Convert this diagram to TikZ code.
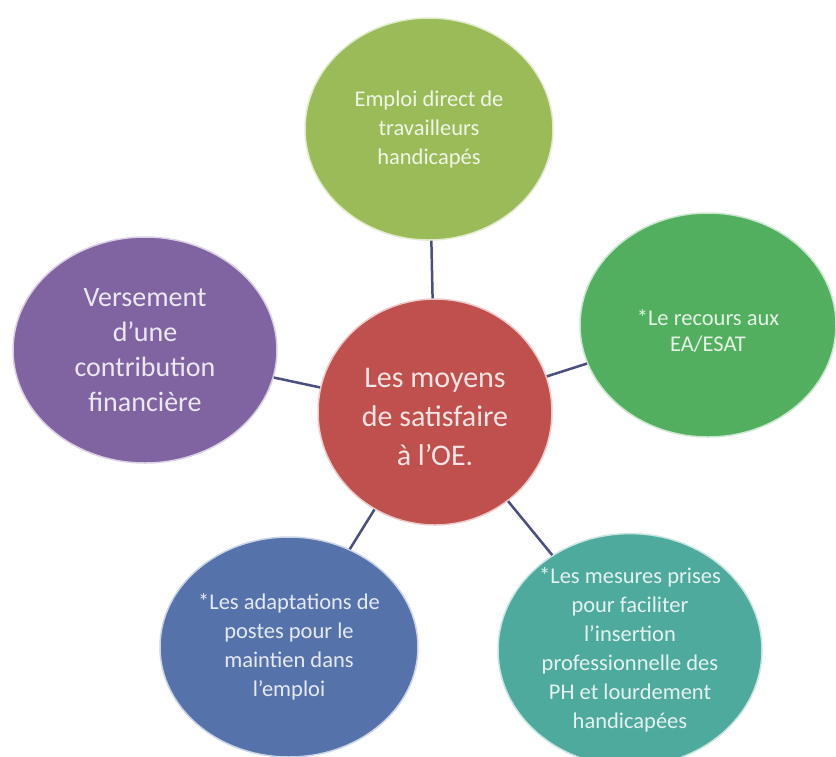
\documentclass[tikz,border=0pt]{standalone}
\usepackage{fontspec}
\setmainfont{Carlito}
\usetikzlibrary{shapes.geometric}
\definecolor{cTop}{HTML}{9BBB59}
\definecolor{cRight}{HTML}{52AF5F}
\definecolor{cRed}{HTML}{C0504D}
\definecolor{cLeft}{HTML}{8064A2}
\definecolor{cBL}{HTML}{5572AA}
\definecolor{cBR}{HTML}{4EAA9C}
\definecolor{cLink}{HTML}{4B4F7E}
\begin{document}
\begin{tikzpicture}[x=1pt,y=-1pt,
  bubble/.style={ellipse, inner sep=0pt, draw=white!70!#1, line width=1.5pt,
    fill=#1, text=white!85!#1, align=center},
  small/.style={font=\fontsize{22.5}{29}\selectfont},
  link/.style={draw=cLink, line width=2.5pt}]
\fill[white] (0,0) rectangle (836,756);
\useasboundingbox (0,0) rectangle (836,756);
\node[bubble=cRed, font=\fontsize{30}{39}\selectfont, minimum width=234pt, minimum height=226pt] (c) at (435,412) {\rule{0pt}{29pt}Les moyens\\de satisfaire\\à l’OE.};
\node[bubble=cTop, small, minimum width=248pt, minimum height=222pt] (t) at (429,129) {Emploi direct de\\travailleurs\\handicapés};
\node[bubble=cRight, font=\fontsize{22.5}{26}\selectfont, minimum width=256pt, minimum height=224pt] (r) at (708,325) {\rule{0pt}{28pt}*Le recours aux\\EA/ESAT};
\node[bubble=cLeft, font=\fontsize{28}{35}\selectfont, minimum width=264pt, minimum height=226pt] (l) at (145,350) {Versement\\d’une\\contribution\\financière};
\node[bubble=cBL, small, minimum width=258pt, minimum height=220pt] (bl) at (289,647) {*Les adaptations de\\postes pour le\\maintien dans\\l’emploi};
\node[bubble=cBR, small, minimum width=264pt, minimum height=226pt] (br) at (630,650) {*Les mesures prises\\pour faciliter\\l’insertion\\professionnelle des\\PH et lourdement\\handicapées};
\draw[link] (c) -- (t);
\draw[link] (c) -- (r);
\draw[link] (c) -- (l);
\draw[link] (c) -- (bl);
\draw[link] (c) -- (br);
\end{tikzpicture}
\end{document}
